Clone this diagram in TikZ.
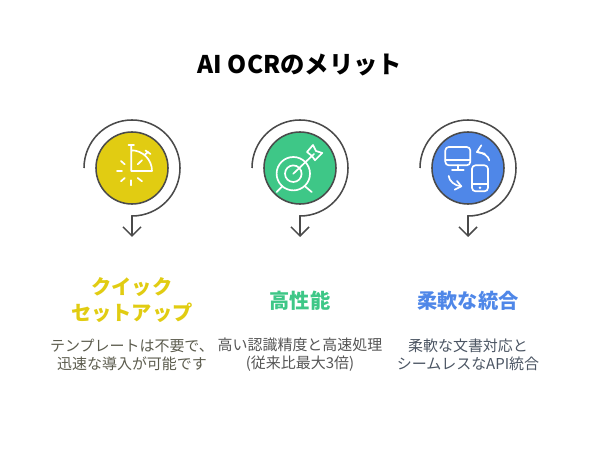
\documentclass[tikz,border=0pt]{standalone}
\usepackage{fontspec}
\setmainfont{Noto Sans CJK JP}
\usetikzlibrary{arrows.meta}
\definecolor{quickcol}{HTML}{E1CC12}
\definecolor{perfcol}{HTML}{3EC787}
\definecolor{flexcol}{HTML}{4F87E8}
\definecolor{ringcol}{HTML}{4A4A4A}
\definecolor{quicktxt}{HTML}{5C5C4E}
\definecolor{perftxt}{HTML}{555555}
\definecolor{flextxt}{HTML}{4B5563}
\tikzset{
  badge/.style={circle,draw=ringcol,line width=1.1pt,minimum size=1.8cm,inner sep=0pt},
  ring/.style={draw=ringcol,line width=1.1pt,-{Straight Barb[length=6.4pt,width=12.8pt]}},
  iconline/.style={draw=white,line width=1.2pt,line cap=round,line join=round},
  heading/.style={font=\fontsize{14.4}{17.8}\selectfont\bfseries,align=center,inner sep=0pt},
  blurb/.style={font=\fontsize{10.65}{12.8}\selectfont,align=center,inner sep=0pt},
}
\begin{document}
\begin{tikzpicture}[x=0.025cm,y=0.025cm]
\useasboundingbox (0,0) rectangle (600,468);
\node[font=\fontsize{17.3}{20}\selectfont\bfseries,text=black,inner sep=0pt] (title) at (300,402.5) {AI OCRのメリット};
% badges
\node[badge,fill=quickcol] (quick) at (132,300) {};
\node[badge,fill=perfcol] (perf) at (300,300) {};
\node[badge,fill=flexcol] (flex) at (468,300) {};
% rings
\foreach \b in {quick,perf,flex}{
  \draw[ring] (\b.center) ++(-48,0) arc[start angle=180,end angle=-90,radius=48] -- ++(0,-21);
}
% stopwatch
\begin{scope}[shift={(132,300)}]
\draw[iconline] (-0.7,22.7) -- (-0.7,-3) -- (20,-3) arc[start angle=0,end angle=90,radius=20.7];
\draw[iconline] (-3.5,23) -- (2,23);
\draw[iconline] (13,13.5) -- (16,16);
\draw[iconline] (13.5,17.5) -- (18.5,14);
\draw[iconline] (5.7,3.7) -- (10,7.7);
\draw[iconline] (-15,-3) -- (-10,-3);
\draw[iconline] (-11,7) -- (-7.3,3.7);
\draw[iconline] (-11,-13.3) -- (-7.3,-10);
\draw[iconline] (-0.7,-12.3) -- (-0.7,-17.3);
\draw[iconline] (5.7,-10) -- (10,-13.3);
\end{scope}
% target
\begin{scope}[shift={(300,300)}]
\draw[iconline] (-6.7,-5.7) circle[radius=16.7];
\draw[iconline] (-6.7,-5.7) circle[radius=8.3];
\draw[iconline] (-6.7,-5.7) -- (14,14);
\draw[iconline] (7,16) -- (13,23) -- (16,17) -- (22.3,15) -- (15,7.7) -- (12,12) -- (7,16);
\draw[iconline] (-23.3,-24) -- (-17.7,-18.3);
\draw[iconline] (11.7,-24) -- (5,-18.3);
\end{scope}
% devices
\begin{scope}[shift={(468,300)}]
\draw[iconline,rounded corners=2.5] (-22.7,2.7) rectangle (2.3,21);
\draw[iconline] (-22.7,7.7) -- (2.3,7.7);
\draw[iconline] (-10.3,2.7) -- (-10.3,-1.7);
\draw[iconline] (-16,-1.7) -- (-4.3,-1.7);
\draw[iconline,rounded corners=2.5] (4,-23.3) rectangle (20,2.7);
\draw[iconline] (4,-16.3) -- (20,-16.3);
\fill[white] (12,-19.7) circle[radius=1.4];
\draw[iconline] (21.3,7.7) .. controls (20.5,12) and (15,15.5) .. (9,16);
\draw[iconline] (13.3,22.7) -- (9,16) -- (16.7,14.3);
\draw[iconline] (-19.3,-8) .. controls (-19,-13) and (-13,-18) .. (-6.7,-18.3);
\draw[iconline] (-11,-13) -- (-6.7,-18.3) -- (-13.3,-21.7);
\end{scope}
% labels
\node[heading,text=quickcol] (quickhead) at (132,168) {クイック\\[1pt]セットアップ};
\node[heading,text=perfcol] (perfhead) at (300,167) {高性能};
\node[heading,text=flexcol] (flexhead) at (468,167) {柔軟な統合};
\node[blurb,text=quicktxt] (quicktext) at (132,113.5) {テンプレートは不要で、\\迅速な導入が可能です};
\node[blurb,text=perftxt] (perftext) at (300,113.5) {高い認識精度と高速処理\\(従来比最大3倍)};
\node[blurb,text=flextxt] (flextext) at (468,113.5) {柔軟な文書対応と\\シームレスなAPI統合};
\end{tikzpicture}
\end{document}
